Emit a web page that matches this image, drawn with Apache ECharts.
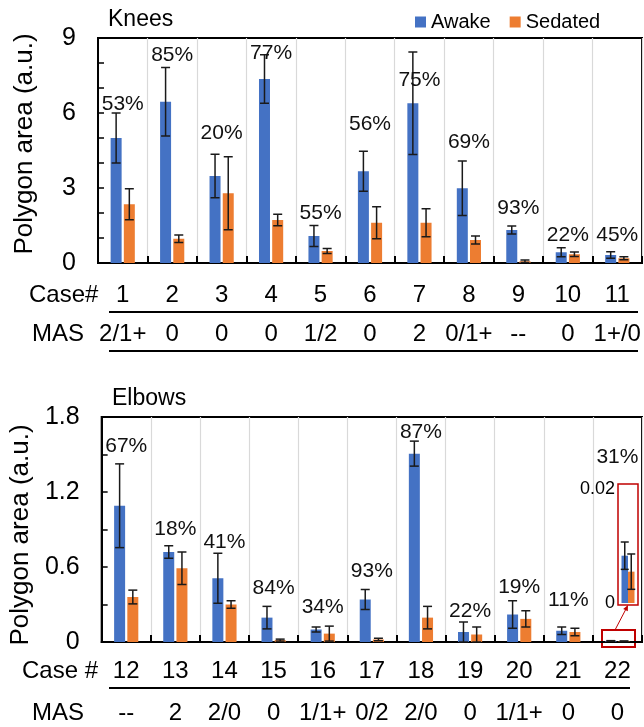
<!DOCTYPE html>
<html>
<head>
<meta charset="utf-8">
<script src="https://cdn.jsdelivr.net/npm/echarts@6/dist/echarts.min.js"></script>
<style>
  html, body { margin: 0; padding: 0; background: #fff; }
  #chart { width: 644px; height: 727px; }
</style>
</head>
<body>
<div id="chart"></div>
<script>
// ---- data ----
var kneeCases = ['1', '2', '3', '4', '5', '6', '7', '8', '9', '10', '11'];
var kneeMAS = ['2/1+', '0', '0', '0', '1/2', '0', '2', '0/1+', '--', '0', '1+/0'];
var kneeAwake = [5.0, 6.45, 3.48, 7.36, 1.08, 3.67, 6.39, 2.99, 1.32, 0.43, 0.32];
var kneeAwakeErr = [1.0, 1.37, 0.87, 0.97, 0.42, 0.8, 2.05, 1.09, 0.16, 0.18, 0.13];
var kneeSedated = [2.35, 0.97, 2.79, 1.72, 0.48, 1.61, 1.61, 0.92, 0.07, 0.35, 0.19];
var kneeSedatedErr = [0.62, 0.15, 1.46, 0.23, 0.1, 0.64, 0.56, 0.16, 0.05, 0.09, 0.06];
var kneePct = ['53%', '85%', '20%', '77%', '55%', '56%', '75%', '69%', '93%', '22%', '45%'];
var kneePctAt = [6.36, 8.32, 5.2, 8.4, 2.0, 5.56, 7.32, 4.84, 2.2, 1.12, 1.12];

var elbowCases = ['12', '13', '14', '15', '16', '17', '18', '19', '20', '21', '22'];
var elbowMAS = ['--', '2', '2/0', '0', '1/1+', '0/2', '2/0', '0', '1/1+', '0', '0'];
var elbowAwake = [1.09, 0.72, 0.51, 0.195, 0.10, 0.34, 1.507, 0.08, 0.22, 0.09, 0.0083];
var elbowAwakeErr = [0.335, 0.05, 0.2, 0.09, 0.02, 0.08, 0.1, 0.08, 0.11, 0.03, 0.0024];
var elbowSedated = [0.36, 0.59, 0.30, 0.015, 0.067, 0.02, 0.195, 0.06, 0.185, 0.08, 0.0055];
var elbowSedatedErr = [0.055, 0.13, 0.03, 0.008, 0.06, 0.01, 0.09, 0.06, 0.065, 0.03, 0.0031];
var elbowPct = ['67%', '18%', '41%', '84%', '34%', '93%', '87%', '22%', '19%', '11%', '31%'];
var elbowPctAt = [1.566, 0.90, 0.80, 0.427, 0.278, 0.566, 1.68, 0.248, 0.44, 0.334, 1.478];

var kneeTicks = [0, 3, 6, 9];
var elbowTicks = [0, 0.6, 1.2, 1.8];

var BLUE = '#4472c4', ORANGE = '#ed7d31', RED = '#c00000';
var FONT = '"Liberation Sans", Arial, sans-serif';

function errBars(xi, yi, vals, errs, dx, cap) {
  return {
    type: 'custom', xAxisIndex: xi, yAxisIndex: yi, silent: true, z: 4,
    data: vals.map(function (v, i) { return [i, v]; }),
    renderItem: function (params, api) {
      var i = api.value(0), v = api.value(1), e = errs[params.dataIndex];
      var hi = api.coord([i, v + e]), lo = api.coord([i, v - e]);
      var x = hi[0] + dx;
      var st = { stroke: '#1a1a1a', lineWidth: 1.5 };
      return {
        type: 'group', children: [
          { type: 'line', shape: { x1: x, y1: hi[1], x2: x, y2: lo[1] }, style: st },
          { type: 'line', shape: { x1: x - cap, y1: hi[1], x2: x + cap, y2: hi[1] }, style: st },
          { type: 'line', shape: { x1: x - cap, y1: lo[1], x2: x + cap, y2: lo[1] }, style: st }
        ]
      };
    }
  };
}

function pctLabels(xi, yi, at, texts) {
  return {
    type: 'custom', xAxisIndex: xi, yAxisIndex: yi, silent: true, z: 5,
    data: at.map(function (v, i) { return [i, v]; }),
    renderItem: function (params, api) {
      var p = api.coord([api.value(0), api.value(1)]);
      return {
        type: 'text',
        style: {
          text: texts[params.dataIndex], x: p[0], y: p[1],
          textAlign: 'center', textVerticalAlign: 'middle', align: 'center', verticalAlign: 'middle',
          font: '21px ' + FONT, fill: '#111'
        }
      };
    }
  };
}

function caseAxis(grid, cats, margin) {
  return {
    type: 'category', gridIndex: grid, data: cats, position: 'bottom',
    axisLine: { lineStyle: { color: '#000', width: 2 } },
    axisTick: { show: true, inside: true, length: 7, lineStyle: { color: '#000', width: 2 } },
    axisLabel: { interval: 0, margin: margin, fontSize: 24, color: '#000', fontFamily: FONT },
    splitLine: { show: true, lineStyle: { color: '#d9d9d9', width: 1.2 } }
  };
}

function masAxis(grid, cats, margin) {
  return {
    type: 'category', gridIndex: grid, data: cats, position: 'bottom',
    axisLine: { show: false }, axisTick: { show: false }, splitLine: { show: false },
    axisLabel: { interval: 0, margin: margin, fontSize: 24, color: '#000', fontFamily: FONT }
  };
}

function valueAxis(grid, max, step, shown, pad) {
  return {
    type: 'value', gridIndex: grid, min: 0, max: max, interval: step,
    name: 'Polygon area (a.u.)', nameLocation: 'middle', nameGap: 60, nameRotate: 90,
    nameTextStyle: { fontSize: 26, color: '#000', fontFamily: FONT, padding: pad },
    axisLine: { show: true, lineStyle: { color: '#000', width: 2 } },
    axisTick: { show: true, inside: true, length: 6, lineStyle: { color: '#000', width: 1.5 } },
    axisLabel: {
      margin: 22, fontSize: 25, color: '#000', fontFamily: FONT,
      formatter: function (v) {
        for (var k = 0; k < shown.length; k++) {
          if (Math.abs(v - shown[k]) < 1e-6) return String(shown[k]);
        }
        return '';
      }
    },
    splitLine: { show: false }
  };
}

function txt(s, x, y, size) {
  return {
    type: 'text', x: x, y: y, silent: true,
    style: { text: s, font: size + 'px ' + FONT, fill: '#000', textAlign: 'left', textVerticalAlign: 'middle', align: 'left', verticalAlign: 'middle' }
  };
}

function hline(x1, x2, y) {
  return { type: 'line', silent: true, shape: { x1: x1, y1: y, x2: x2, y2: y }, style: { stroke: '#000', lineWidth: 2 } };
}

var chart = echarts.init(document.getElementById('chart'));
chart.setOption({
  animation: false,
  backgroundColor: '#fff',
  textStyle: { fontFamily: FONT },
  legend: {
    data: ['Awake', 'Sedated'], left: 415, top: 12, padding: 0,
    icon: 'rect', itemWidth: 11, itemHeight: 11, itemGap: 19,
    textStyle: { fontSize: 20, color: '#000', fontFamily: FONT }
  },
  grid: [
    { left: 98, right: 2, top: 38, height: 225, show: true, borderColor: '#000', borderWidth: 2, containLabel: false },
    { left: 99, right: 2, top: 417, height: 225, show: true, borderColor: '#000', borderWidth: 2, containLabel: false },
    { left: 618, width: 20, top: 489, height: 114, containLabel: false }
  ],
  xAxis: [
    caseAxis(0, kneeCases, 20),
    masAxis(0, kneeMAS, 59.5),
    caseAxis(1, elbowCases, 17.5),
    masAxis(1, elbowMAS, 59.5),
    { type: 'category', gridIndex: 2, data: ['22'], show: false }
  ],
  yAxis: [
    valueAxis(0, 9, 1, kneeTicks, [0, 0, 0, 13]),
    valueAxis(1, 1.8, 0.3, elbowTicks, [0, 11, 0, 0]),
    {
      type: 'value', gridIndex: 2, min: 0, max: 0.02, interval: 0.02,
      axisLine: { show: false }, axisTick: { show: false }, splitLine: { show: false },
      axisLabel: { margin: 3, fontSize: 18, color: '#000', fontFamily: FONT,
        formatter: function (v) { return v === 0 ? '0' : '0.02'; } }
    }
  ],
  series: [
    { name: 'Awake', type: 'bar', xAxisIndex: 0, yAxisIndex: 0, data: kneeAwake, barWidth: 11, barGap: '20%', itemStyle: { color: BLUE } },
    { name: 'Sedated', type: 'bar', xAxisIndex: 0, yAxisIndex: 0, data: kneeSedated, barWidth: 11, barGap: '20%', itemStyle: { color: ORANGE } },
    errBars(0, 0, kneeAwake, kneeAwakeErr, -6.6, 4.5),
    errBars(0, 0, kneeSedated, kneeSedatedErr, 6.6, 4.5),
    pctLabels(0, 0, kneePctAt, kneePct),

    { name: 'Awake', type: 'bar', xAxisIndex: 2, yAxisIndex: 1, data: elbowAwake, barWidth: 11, barGap: '20%', itemStyle: { color: BLUE } },
    { name: 'Sedated', type: 'bar', xAxisIndex: 2, yAxisIndex: 1, data: elbowSedated, barWidth: 11, barGap: '20%', itemStyle: { color: ORANGE } },
    errBars(2, 1, elbowAwake, elbowAwakeErr, -6.6, 4.5),
    errBars(2, 1, elbowSedated, elbowSedatedErr, 6.6, 4.5),
    pctLabels(2, 1, elbowPctAt, elbowPct),

    // zoomed view of case 22
    { name: 'Awake', type: 'bar', xAxisIndex: 4, yAxisIndex: 2, data: elbowAwake.slice(10), barWidth: 6.5, barGap: '0%', itemStyle: { color: BLUE } },
    { name: 'Sedated', type: 'bar', xAxisIndex: 4, yAxisIndex: 2, data: elbowSedated.slice(10), barWidth: 6.5, barGap: '0%', itemStyle: { color: ORANGE } },
    errBars(4, 2, elbowAwake.slice(10), elbowAwakeErr.slice(10), -3.25, 4),
    errBars(4, 2, elbowSedated.slice(10), elbowSedatedErr.slice(10), 3.25, 4)
  ],
  graphic: [
    txt('Knees', 108, 20, 23),
    txt('Elbows', 112, 398.5, 23),
    txt('Case#', 29, 295, 24),
    txt('MAS', 32, 334.5, 24),
    txt('Case #', 22, 671.5, 24),
    txt('MAS', 32, 713.5, 24),
    hline(109, 638, 312),
    hline(109, 638, 351),
    hline(109, 630, 688),
    { type: 'rect', silent: true, shape: { x: 618, y: 484, width: 20, height: 121 }, style: { fill: 'none', stroke: RED, lineWidth: 1.5 } },
    { type: 'rect', silent: true, shape: { x: 602, y: 630, width: 33, height: 17 }, style: { fill: 'none', stroke: RED, lineWidth: 2 } },
    { type: 'line', silent: true, shape: { x1: 615, y1: 630, x2: 626.5, y2: 608 }, style: { stroke: RED, lineWidth: 1 } },
    { type: 'polygon', silent: true, shape: { points: [[628, 605], [627.8, 611.3], [623.2, 609]] }, style: { fill: RED } }
  ]
});
</script>
</body>
</html>
